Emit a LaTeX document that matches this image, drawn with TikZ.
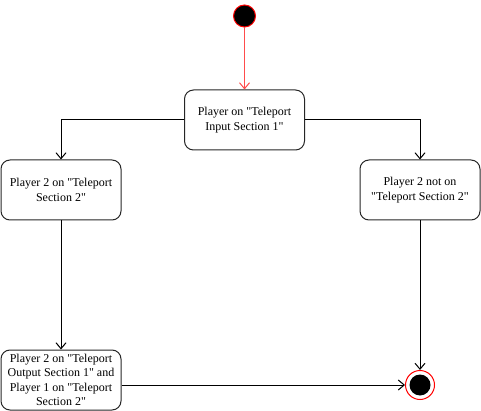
\documentclass[tikz,border=0pt]{standalone}
\usepackage{fontspec}
\setmainfont{Liberation Serif}[Ligatures=TeXOff]
\usetikzlibrary{arrows.meta}
\begin{document}
\begin{tikzpicture}[x=1pt,y=-1pt,
  state/.style={draw=black!85, line width=1pt, rounded corners=9pt, minimum width=120pt, minimum height=60pt, align=center, inner sep=0pt, font=\fontsize{12}{14.5}\selectfont},
  conn/.style={draw, line width=1pt, -{Straight Barb[length=6pt,width=10pt]}},
  redconn/.style={draw=red!70, line width=1pt, -{Straight Barb[length=6pt,width=10pt]}}]
\useasboundingbox (0,0) rectangle (481,411);
\node[circle, fill=black, draw=red, line width=1pt, minimum size=22pt, inner sep=0pt] (s) at (244.5,16) {};
\node[state] (b1) at (244.5,120) {Player on "Teleport\\Input Section 1"};
\node[state] (b2) at (61,190) {Player 2 on "Teleport\\Section 2"};
\node[state] (b3) at (420,190) {Player 2 not on\\"Teleport Section 2"};
\node[state] (b4) at (61,380) {Player 2 on "Teleport\\Output Section 1" and\\Player 1 on "Teleport\\Section 2"};
\node[circle, draw=red, line width=1pt, minimum size=29pt, inner sep=0pt] (e) at (420,385) {};
\node[circle, fill=black, minimum size=21pt, inner sep=0pt] (ei) at (e.center) {};
\draw[redconn] (s) -- (b1);
\draw[conn] (b1.west) -| (b2.north);
\draw[conn] (b1.east) -| (b3.north);
\draw[conn] (b2) -- (b4);
\draw[conn] (b3) -- (e);
\draw[conn] (b4.east |- e.west) -- (e.west);
\end{tikzpicture}
\end{document}
